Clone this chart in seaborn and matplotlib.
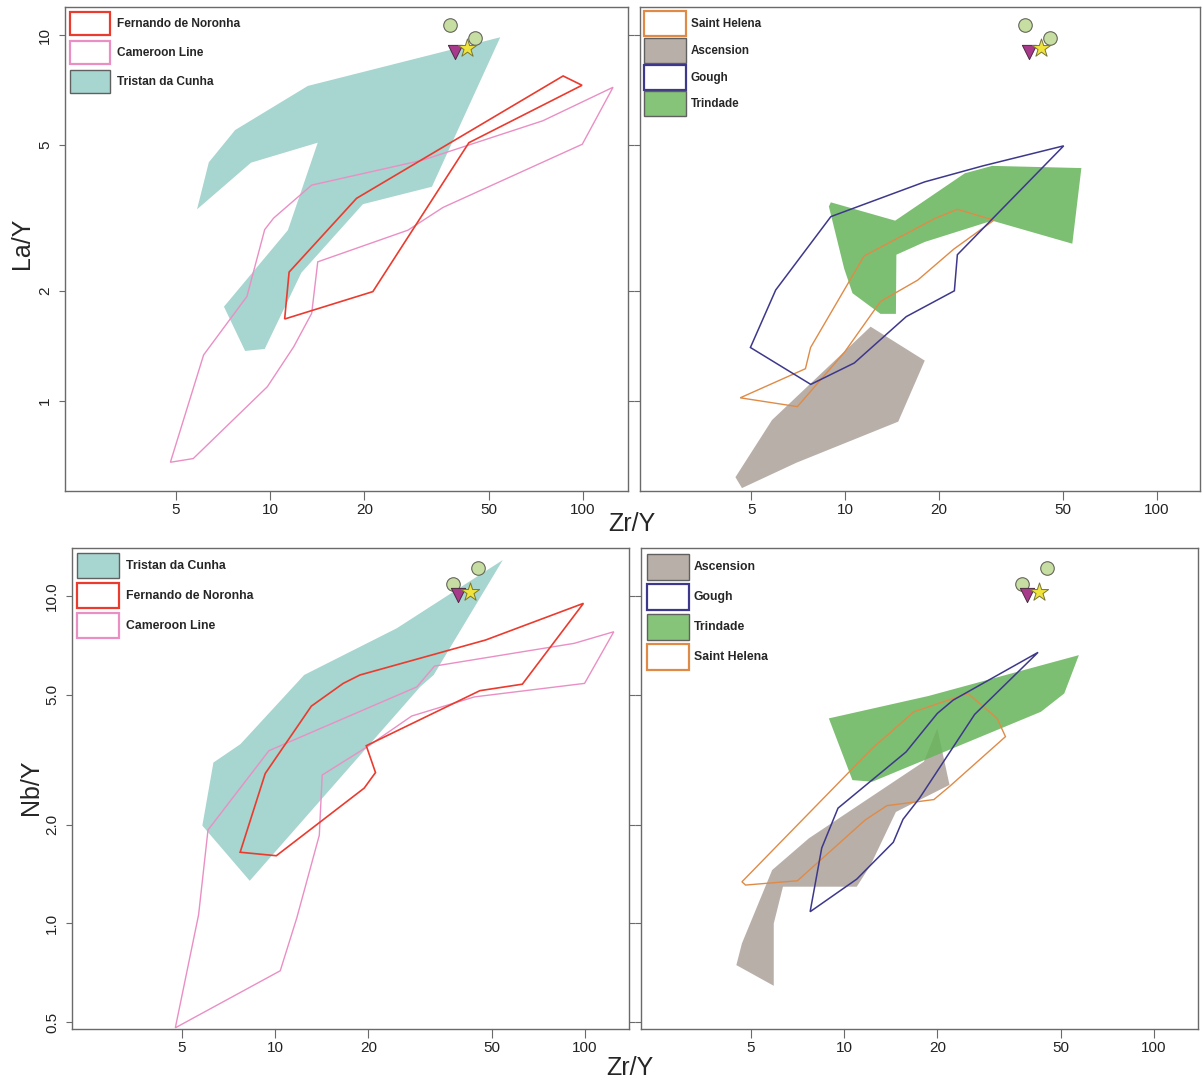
import matplotlib
matplotlib.use("Agg")
import matplotlib.pyplot as plt
from matplotlib.patches import Patch
import seaborn as sns

# ---------------- La/Y vs Zr/Y ----------------
la_tristan_zr = [5.84, 6.37, 7.73, 13.2, 54.4, 32.9, 19.8, 12.58, 9.61, 8.32, 7.12, 11.4, 14.2, 8.69]
la_tristan_y = [3.34, 4.49, 5.50, 7.26, 9.86, 3.85, 3.45, 2.24, 1.387, 1.37, 1.81, 2.93, 5.08, 4.48]

la_fernando_zr = [11.13, 11.5, 18.9, 86.4, 99.3, 43.2, 21.3]
la_fernando_y = [1.675, 2.25, 3.58, 7.73, 7.29, 5.08, 1.99]

la_cameroon_zr = [4.80, 5.68, 9.8, 11.9, 13.58, 14.2, 27.6, 35.7, 99.5, 124.8, 74.4, 30.7, 13.58, 10.26, 9.61, 8.43, 6.13]
la_cameroon_y = [0.68, 0.696, 1.094, 1.407, 1.736, 2.40, 2.93, 3.38, 5.03, 7.20, 5.83, 4.55, 3.89, 3.16, 2.94, 1.93, 1.336]

la_trindade_zr = [9.0, 14.47, 24.2, 29.6, 57.2, 53.5, 29.6, 18.0, 14.6, 14.55, 12.98, 10.56, 9.93, 8.87]
la_trindade_y = [3.49, 3.11, 4.19, 4.39, 4.33, 2.69, 3.11, 2.72, 2.51, 1.73, 1.73, 1.97, 2.30, 3.40]

la_gough_zr = [4.97, 5.99, 9.0, 18.0, 27.65, 50.2, 22.9, 22.4, 15.7, 10.7, 7.76]
la_gough_y = [1.40, 2.01, 3.19, 3.97, 4.39, 4.98, 2.51, 2.0, 1.70, 1.27, 1.11]

la_helena_zr = [4.61, 7.46, 7.75, 11.5, 19.5, 22.9, 30.0, 22.3, 17.1, 12.98, 9.96, 7.03]
la_helena_y = [1.02, 1.225, 1.40, 2.49, 3.16, 3.34, 3.12, 2.60, 2.14, 1.87, 1.36, 0.965]

la_ascension_zr = [12.07, 18.0, 14.8, 6.98, 4.67, 4.45, 5.83]
la_ascension_y = [1.596, 1.289, 0.878, 0.678, 0.578, 0.619, 0.887]

la_circle_zr = [37.6, 45.3]
la_circle_y = [10.65, 9.83]
la_triangle_zr = [38.9]
la_triangle_y = [8.99]
la_star_zr = [42.6]
la_star_y = [9.23]

# ---------------- Nb/Y vs Zr/Y ----------------
nb_tristan_zr = [54.3, 32.5, 29.4, 8.29, 5.83, 6.33, 7.74, 12.42, 24.7]
nb_tristan_y = [12.88, 5.74, 5.28, 1.35, 1.99, 3.10, 3.53, 5.74, 7.97]

nb_fernando_zr = [7.72, 10.1, 19.4, 21.1, 19.7, 45.8, 62.8, 98.9, 47.8, 18.8, 16.6, 13.1, 9.3]
nb_fernando_y = [1.65, 1.61, 2.59, 2.89, 3.49, 5.14, 5.38, 9.5, 7.34, 5.74, 5.41, 4.61, 2.87]

nb_cameroon_zr = [4.77, 5.67, 6.08, 9.56, 28.7, 32.7, 92.3, 123.9, 99.7, 44.0, 27.6, 19.8, 14.2, 13.9, 11.76, 10.4]
nb_cameroon_y = [0.48, 1.063, 1.93, 3.37, 5.28, 6.11, 7.17, 7.78, 5.41, 4.92, 4.30, 3.46, 2.84, 1.86, 1.04, 0.717]

nb_trindade_zr = [8.93, 10.64, 12.34, 43.2, 51.4, 57.3, 18.7]
nb_trindade_y = [4.23, 2.74, 2.71, 4.43, 5.04, 6.60, 4.95]

nb_ascension_zr = [5.93, 4.49, 4.68, 5.86, 7.70, 18.1, 20.0, 21.9, 14.7, 12.18, 10.99, 6.35, 5.93]
nb_ascension_y = [0.645, 0.746, 0.869, 1.456, 1.82, 3.12, 3.94, 2.65, 2.19, 1.508, 1.295, 1.295, 1.0]

nb_gough_zr = [7.77, 10.99, 14.42, 15.5, 17.5, 26.4, 42.3, 22.5, 20.0, 15.85, 9.56, 8.47]
nb_gough_y = [1.086, 1.366, 1.77, 2.08, 2.41, 4.35, 6.73, 4.81, 4.38, 3.34, 2.25, 1.70]

nb_helena_zr = [4.68, 4.81, 7.07, 11.7, 13.75, 19.5, 21.9, 33.2, 31.2, 25.1, 16.8, 12.34]
nb_helena_y = [1.34, 1.31, 1.35, 2.07, 2.29, 2.39, 2.62, 3.72, 4.23, 5.04, 4.43, 3.43]

nb_circle_zr = [37.5, 45.2]
nb_circle_y = [10.9, 12.15]
nb_triangle_zr = [38.9]
nb_triangle_y = [10.07]
nb_star_zr = [42.5]
nb_star_y = [10.3]

# ---------------- ticks ----------------
zr_ticks = [5, 10, 20, 50, 100]
zr_tick_labels = ["5", "10", "20", "50", "100"]
la_ticks = [1, 2, 5, 10]
la_tick_labels = ["1", "2", "5", "10"]
nb_ticks = [0.5, 1.0, 2.0, 5.0, 10.0]
nb_tick_labels = ["0.5", "1.0", "2.0", "5.0", "10.0"]

# ---------------- colours ----------------
C_TRISTAN = "#a7d5cf"
C_FERNANDO = "#ea3b2e"
C_CAMEROON = "#ea8fc4"
C_HELENA = "#df8b47"
C_ASCENSION = "#b8afa9"
C_GOUGH = "#3d388b"
C_TRINDADE = "#7dbf72"
C_TRINDADE_KEY = "#86c47a"
C_FRAME = "#6a6a6a"

sns.set_style("ticks")
plt.rcParams["font.family"] = ["Liberation Sans", "DejaVu Sans"]

W, H = 1203, 1081
fig = plt.figure(figsize=(W / 100, H / 100), dpi=100)


def rect(x0, x1, y0, y1):
    return [x0 / W, 1 - y1 / H, (x1 - x0) / W, (y1 - y0) / H]


ax_tl = fig.add_axes(rect(65, 628, 7, 491))
ax_tr = fig.add_axes(rect(640, 1200, 7, 491))
ax_bl = fig.add_axes(rect(72, 629, 548, 1029))
ax_br = fig.add_axes(rect(641, 1198, 548, 1029))


def style_axes(ax, xlim, ylim, yticks, ylabels, left_panel):
    ax.set_xscale("log")
    ax.set_yscale("log")
    ax.set_xlim(*xlim)
    ax.set_ylim(*ylim)
    ax.set_xticks(zr_ticks, labels=zr_tick_labels)
    ax.set_yticks(yticks, labels=ylabels)
    ax.minorticks_off()
    for s in ax.spines.values():
        s.set_visible(True)
        s.set_color(C_FRAME)
        s.set_linewidth(1.0)
    ax.tick_params(axis="x", direction="out", length=6.5, width=0.8,
                   color=C_FRAME, labelsize=11, pad=2, labelcolor="#222222")
    ax.tick_params(axis="y", direction="out", length=4.3, width=0.8,
                   color=C_FRAME, labelsize=11, pad=5, labelcolor="#222222",
                   left=True, right=left_panel, labelleft=left_panel,
                   labelright=False)
    for lbl in ax.get_yticklabels():
        lbl.set_rotation(90)
        lbl.set_va("center")
        lbl.set_ha("right")
    ax.set_xlabel("")
    ax.set_ylabel("")


def filled(ax, x, y, color, alpha=1.0, z=1):
    ax.fill(x, y, facecolor=color, edgecolor="none", alpha=alpha, zorder=z)


def outline(ax, x, y, color, lw=1.1, z=3):
    ax.fill(x, y, fill=False, edgecolor=color, linewidth=lw, zorder=z)


def samples(ax, cx, cy, tx, ty, sx, sy):
    sns.scatterplot(x=cx, y=cy, ax=ax, marker="o", s=95, color="#c6dea2",
                    edgecolor="#66665a", linewidth=0.8, zorder=10, legend=False)
    sns.scatterplot(x=tx, y=ty, ax=ax, marker="v", s=105, color="#a83a8c",
                    edgecolor="#4a2a40", linewidth=0.7, zorder=11, legend=False)
    sns.scatterplot(x=sx, y=sy, ax=ax, marker="*", s=190, color="#efe33c",
                    edgecolor="#7a7632", linewidth=0.7, zorder=12, legend=False)


def legend(ax, entries, size, hl, hh, spacing, pad, offset):
    handles, labels = [], []
    for label, color, is_fill in entries:
        if is_fill:
            handles.append(Patch(facecolor=color, edgecolor="#606060", linewidth=1.0))
        else:
            handles.append(Patch(facecolor="white", edgecolor=color, linewidth=1.6))
        labels.append(label)
    ax.legend(handles, labels, loc="upper left", frameon=False,
              prop={"size": size, "weight": "bold"}, handlelength=hl,
              handleheight=hh, labelspacing=spacing, handletextpad=pad,
              borderaxespad=offset, borderpad=0.0)


# ---- top left: La/Y, Tristan / Fernando / Cameroon ----
style_axes(ax_tl, (2.21, 139.3), (0.5675, 11.93), la_ticks, la_tick_labels, True)
filled(ax_tl, la_tristan_zr, la_tristan_y, C_TRISTAN)
outline(ax_tl, la_cameroon_zr, la_cameroon_y, C_CAMEROON, lw=1.0)
outline(ax_tl, la_fernando_zr, la_fernando_y, C_FERNANDO, lw=1.2)
samples(ax_tl, la_circle_zr, la_circle_y, la_triangle_zr, la_triangle_y, la_star_zr, la_star_y)
legend(ax_tl, [("Fernando de Noronha", C_FERNANDO, False),
               ("Cameroon Line", C_CAMEROON, False),
               ("Tristan da Cunha", C_TRISTAN, True)],
       8.6, 3.4, 2.59, 0.53, 0.6, 0.38)

# ---- top right: La/Y, Saint Helena / Ascension / Gough / Trindade ----
style_axes(ax_tr, (2.20, 137.3), (0.5675, 11.93), la_ticks, la_tick_labels, False)
filled(ax_tr, la_ascension_zr, la_ascension_y, C_ASCENSION)
filled(ax_tr, la_trindade_zr, la_trindade_y, C_TRINDADE)
outline(ax_tr, la_helena_zr, la_helena_y, C_HELENA, lw=1.0)
outline(ax_tr, la_gough_zr, la_gough_y, C_GOUGH, lw=1.1)
samples(ax_tr, la_circle_zr, la_circle_y, la_triangle_zr, la_triangle_y, la_star_zr, la_star_y)
legend(ax_tr, [("Saint Helena", C_HELENA, False),
               ("Ascension", C_ASCENSION, True),
               ("Gough", C_GOUGH, False),
               ("Trindade", C_TRINDADE_KEY, True)],
       8.4, 3.6, 2.92, 0.15, 0.4, 0.35)

# ---- bottom left: Nb/Y, Tristan / Fernando / Cameroon ----
style_axes(ax_bl, (2.214, 138.7), (0.476, 14.02), nb_ticks, nb_tick_labels, True)
filled(ax_bl, nb_tristan_zr, nb_tristan_y, C_TRISTAN)
outline(ax_bl, nb_cameroon_zr, nb_cameroon_y, C_CAMEROON, lw=1.0)
outline(ax_bl, nb_fernando_zr, nb_fernando_y, C_FERNANDO, lw=1.2)
samples(ax_bl, nb_circle_zr, nb_circle_y, nb_triangle_zr, nb_triangle_y, nb_star_zr, nb_star_y)
legend(ax_bl, [("Tristan da Cunha", C_TRISTAN, True),
               ("Fernando de Noronha", C_FERNANDO, False),
               ("Cameroon Line", C_CAMEROON, False)],
       8.8, 3.5, 2.77, 0.41, 0.5, 0.38)

# ---- bottom right: Nb/Y, Ascension / Gough / Trindade / Saint Helena ----
style_axes(ax_br, (2.21, 138.9), (0.476, 14.02), nb_ticks, nb_tick_labels, False)
filled(ax_br, nb_ascension_zr, nb_ascension_y, C_ASCENSION)
filled(ax_br, nb_trindade_zr, nb_trindade_y, "#66b459", alpha=0.85, z=2)
outline(ax_br, nb_helena_zr, nb_helena_y, C_HELENA, lw=1.0)
outline(ax_br, nb_gough_zr, nb_gough_y, C_GOUGH, lw=1.1)
samples(ax_br, nb_circle_zr, nb_circle_y, nb_triangle_zr, nb_triangle_y, nb_star_zr, nb_star_y)
legend(ax_br, [("Ascension", C_ASCENSION, True),
               ("Gough", C_GOUGH, False),
               ("Trindade", C_TRINDADE_KEY, True),
               ("Saint Helena", C_HELENA, False)],
       8.8, 3.45, 2.90, 0.33, 0.4, 0.45)

# ---- shared axis titles ----
fig.text(22 / W, 1 - 243 / H, "La/Y", rotation=90, ha="center", va="center", fontsize=18)
fig.text(31 / W, 1 - 787 / H, "Nb/Y", rotation=90, ha="center", va="center", fontsize=18)
fig.text(632 / W, 1 - 524 / H, "Zr/Y", ha="center", va="center", fontsize=18)
fig.text(630 / W, 1 - 1068 / H, "Zr/Y", ha="center", va="center", fontsize=18)

fig.savefig("out.png", dpi=100)
